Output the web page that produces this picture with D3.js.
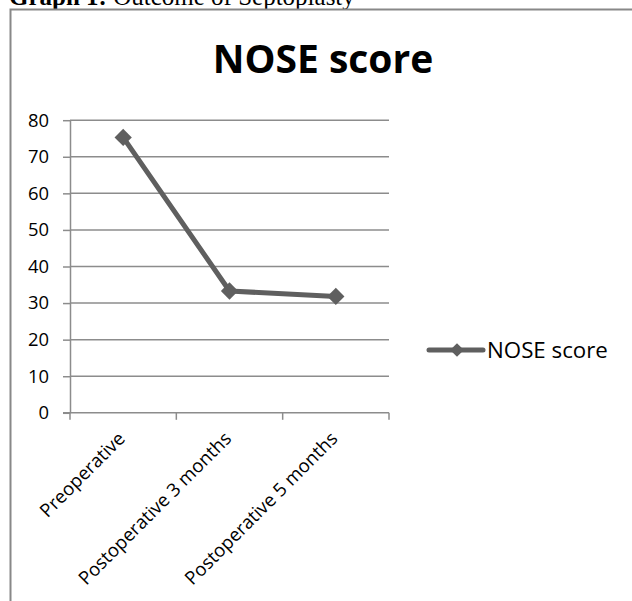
<!DOCTYPE html>
<html>
<head>
<meta charset="utf-8">
<script src="https://cdn.jsdelivr.net/npm/d3@7"></script>
<style>
  html, body { margin: 0; padding: 0; background: #fff; }
  svg { display: block; }
</style>
</head>
<body>
<svg id="chart" width="632" height="601"></svg>
<script>
// NOSE score before and after septoplasty
const categories = ["Preoperative", "Postoperative 3 months", "Postoperative 5 months"];
const noseScore = [75.3, 33.3, 31.8];
const yTicks = [0, 10, 20, 30, 40, 50, 60, 70, 80];
const seriesName = "NOSE score";
const chartTitle = "NOSE score";

const svg = d3.select("#chart");
const plot = { left: 70, right: 389, top: 120.2, bottom: 412.8 };
const lineColor = "#5f5f5f";
const gridColor = "#8c8c8c";
const sans = "'Open Sans', 'DejaVu Sans', sans-serif";

// caption above the chart frame
const cap = svg.append("text")
  .attr("x", 9).attr("y", 4.5)
  .attr("font-family", "'Liberation Serif', 'Times New Roman', serif")
  .attr("font-size", 25).attr("fill", "#000");
cap.append("tspan").attr("font-weight", "bold").text("Graph 1:");
cap.append("tspan").text(" Outcome of Septoplasty");

// chart frame (continues past the right and bottom edges)
svg.append("rect")
  .attr("x", 10.5).attr("y", 9.5)
  .attr("width", 800).attr("height", 800)
  .attr("fill", "#fff")
  .attr("stroke", "#888").attr("stroke-width", 2);

// title
svg.append("text")
  .attr("x", 323).attr("y", 73)
  .attr("text-anchor", "middle")
  .attr("font-family", sans).attr("font-weight", "bold")
  .attr("font-size", 39).attr("fill", "#000")
  .text(chartTitle);

const x = d3.scaleBand().domain(categories).range([plot.left, plot.right]).padding(0);
const y = d3.scaleLinear().domain([0, 80]).range([plot.bottom, plot.top]);

// horizontal gridlines
svg.append("g")
  .selectAll("line")
  .data(yTicks.filter(d => d > 0))
  .join("line")
  .attr("x1", plot.left).attr("x2", plot.right)
  .attr("y1", d => y(d)).attr("y2", d => y(d))
  .attr("stroke", gridColor).attr("stroke-width", 1.5);

// y axis
const yAxis = svg.append("g")
  .attr("transform", `translate(${plot.left},0)`)
  .call(d3.axisLeft(y).tickValues(yTicks).tickSize(7).tickSizeOuter(0).tickPadding(14));
yAxis.select(".domain").attr("stroke", gridColor).attr("stroke-width", 1.5);
yAxis.selectAll(".tick line").attr("stroke", gridColor).attr("stroke-width", 1.5);
yAxis.selectAll(".tick text")
  .attr("font-family", sans).attr("font-size", 18.4).attr("fill", "#000");

// x axis with ticks on band boundaries
const xAxisG = svg.append("g").attr("transform", `translate(0,${plot.bottom})`);
xAxisG.append("line")
  .attr("x1", plot.left - 7).attr("x2", plot.right)
  .attr("stroke", gridColor).attr("stroke-width", 1.5);
const bounds = categories.map(c => x(c)).concat([x(categories[categories.length - 1]) + x.bandwidth()]);
xAxisG.selectAll("line.tk")
  .data(bounds)
  .join("line").attr("class", "tk")
  .attr("x1", d => d).attr("x2", d => d)
  .attr("y1", 0).attr("y2", 7)
  .attr("stroke", gridColor).attr("stroke-width", 1.5);
xAxisG.selectAll("text")
  .data(categories)
  .join("text")
  .attr("transform", d => `translate(${x(d) + x.bandwidth() / 2 + 3},${27}) rotate(-45)`)
  .attr("text-anchor", "end")
  .attr("font-family", sans).attr("font-size", 18.6).attr("fill", "#000")
  .text(d => d);

// series line
const pts = categories.map((c, i) => [x(c) + x.bandwidth() / 2, y(noseScore[i])]);
svg.append("path")
  .attr("d", d3.line()(pts))
  .attr("fill", "none")
  .attr("stroke", lineColor).attr("stroke-width", 5)
  .attr("stroke-linejoin", "round");

const diamond = d3.symbol().type(d3.symbolDiamond2);
svg.append("g")
  .selectAll("path")
  .data(pts)
  .join("path")
  .attr("transform", d => `translate(${d[0]},${d[1]})`)
  .attr("d", diamond.size(190)())
  .attr("fill", lineColor);

// legend
const lg = svg.append("g").attr("transform", "translate(429,350)");
lg.append("line").attr("x1", 0).attr("x2", 54)
  .attr("stroke", lineColor).attr("stroke-width", 5).attr("stroke-linecap", "round");
lg.append("path").attr("transform", "translate(28,0)")
  .attr("d", diamond.size(120)()).attr("fill", lineColor);
lg.append("text").attr("x", 58).attr("y", 0).attr("dy", "0.35em")
  .attr("font-family", sans).attr("font-size", 22.3).attr("fill", "#000")
  .text(seriesName);
</script>
</body>
</html>
